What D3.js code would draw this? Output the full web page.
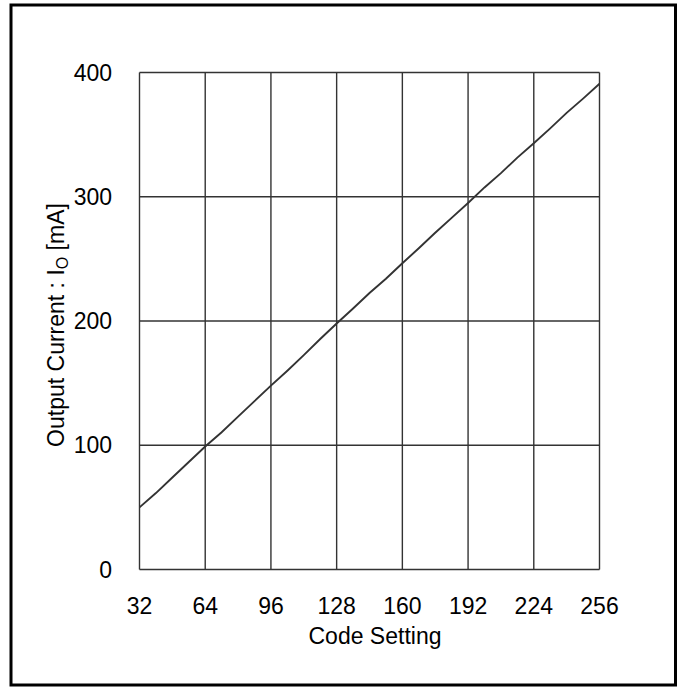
<!DOCTYPE html>
<html>
<head>
<meta charset="utf-8">
<script src="https://cdn.jsdelivr.net/npm/d3@7"></script>
<style>
  html, body { margin: 0; padding: 0; background: #fff; }
  svg { display: block; }
  text { font-family: "Liberation Sans", Arial, sans-serif; fill: #000; }
</style>
</head>
<body>
<svg id="chart" width="685" height="687"></svg>
<script>
// Output current vs. DAC code setting
const codes = [32, 40, 48, 56, 64, 72, 80, 88, 96, 104, 112, 120, 128, 136, 144, 152,
               160, 168, 176, 184, 192, 200, 208, 216, 224, 232, 240, 248, 256];
const currentMA = [50, 61.5, 74, 86.5, 99, 110.5, 123, 135.5, 148, 160, 172.5, 185.5, 198,
                   210, 222.5, 234, 246.5, 258.5, 271, 283, 295, 307.5, 319, 331.5, 343,
                   355, 367.5, 379, 391];
const xTicks = [32, 64, 96, 128, 160, 192, 224, 256];
const yTicks = [0, 100, 200, 300, 400];

const svg = d3.select("#chart");

// Outer frame
svg.append("rect")
  .attr("x", 11).attr("y", 5)
  .attr("width", 664.5).attr("height", 680)
  .attr("fill", "none").attr("stroke", "#000").attr("stroke-width", 3);

const x = d3.scaleLinear().domain([32, 256]).range([139.5, 599.5]);
const y = d3.scaleLinear().domain([0, 400]).range([569.5, 72.5]);

const gridColor = "#333";

// Vertical grid lines
svg.append("g").selectAll("line").data(xTicks).join("line")
  .attr("x1", d => x(d)).attr("x2", d => x(d))
  .attr("y1", y(0)).attr("y2", y(400))
  .attr("stroke", gridColor).attr("stroke-width", 1.4);

// Horizontal grid lines
svg.append("g").selectAll("line").data(yTicks).join("line")
  .attr("x1", x(32)).attr("x2", x(256))
  .attr("y1", d => y(d)).attr("y2", d => y(d))
  .attr("stroke", gridColor).attr("stroke-width", 1.4);

// Current curve
const line = d3.line().x((d, i) => x(codes[i])).y(d => y(d));
svg.append("path")
  .datum(currentMA)
  .attr("d", line)
  .attr("fill", "none")
  .attr("stroke", "#333")
  .attr("stroke-width", 1.9);

// X tick labels
svg.append("g").selectAll("text").data(xTicks).join("text")
  .attr("x", d => x(d)).attr("y", 614)
  .attr("text-anchor", "middle")
  .attr("font-size", 23)
  .text(d => d);

// Y tick labels
svg.append("g").selectAll("text").data(yTicks).join("text")
  .attr("x", 112).attr("y", d => y(d) + 8)
  .attr("text-anchor", "end")
  .attr("font-size", 23)
  .text(d => d);

// Axis titles
svg.append("text")
  .attr("x", 375).attr("y", 644)
  .attr("text-anchor", "middle")
  .attr("font-size", 23)
  .text("Code Setting");

const yTitle = svg.append("text")
  .attr("transform", "translate(64,325) rotate(-90)")
  .attr("text-anchor", "middle")
  .attr("font-size", 23);
yTitle.append("tspan").text("Output Current : I");
yTitle.append("tspan").attr("font-size", 16).attr("dy", 4).text("O");
yTitle.append("tspan").attr("dy", -4).text(" [mA]");
</script>
</body>
</html>
